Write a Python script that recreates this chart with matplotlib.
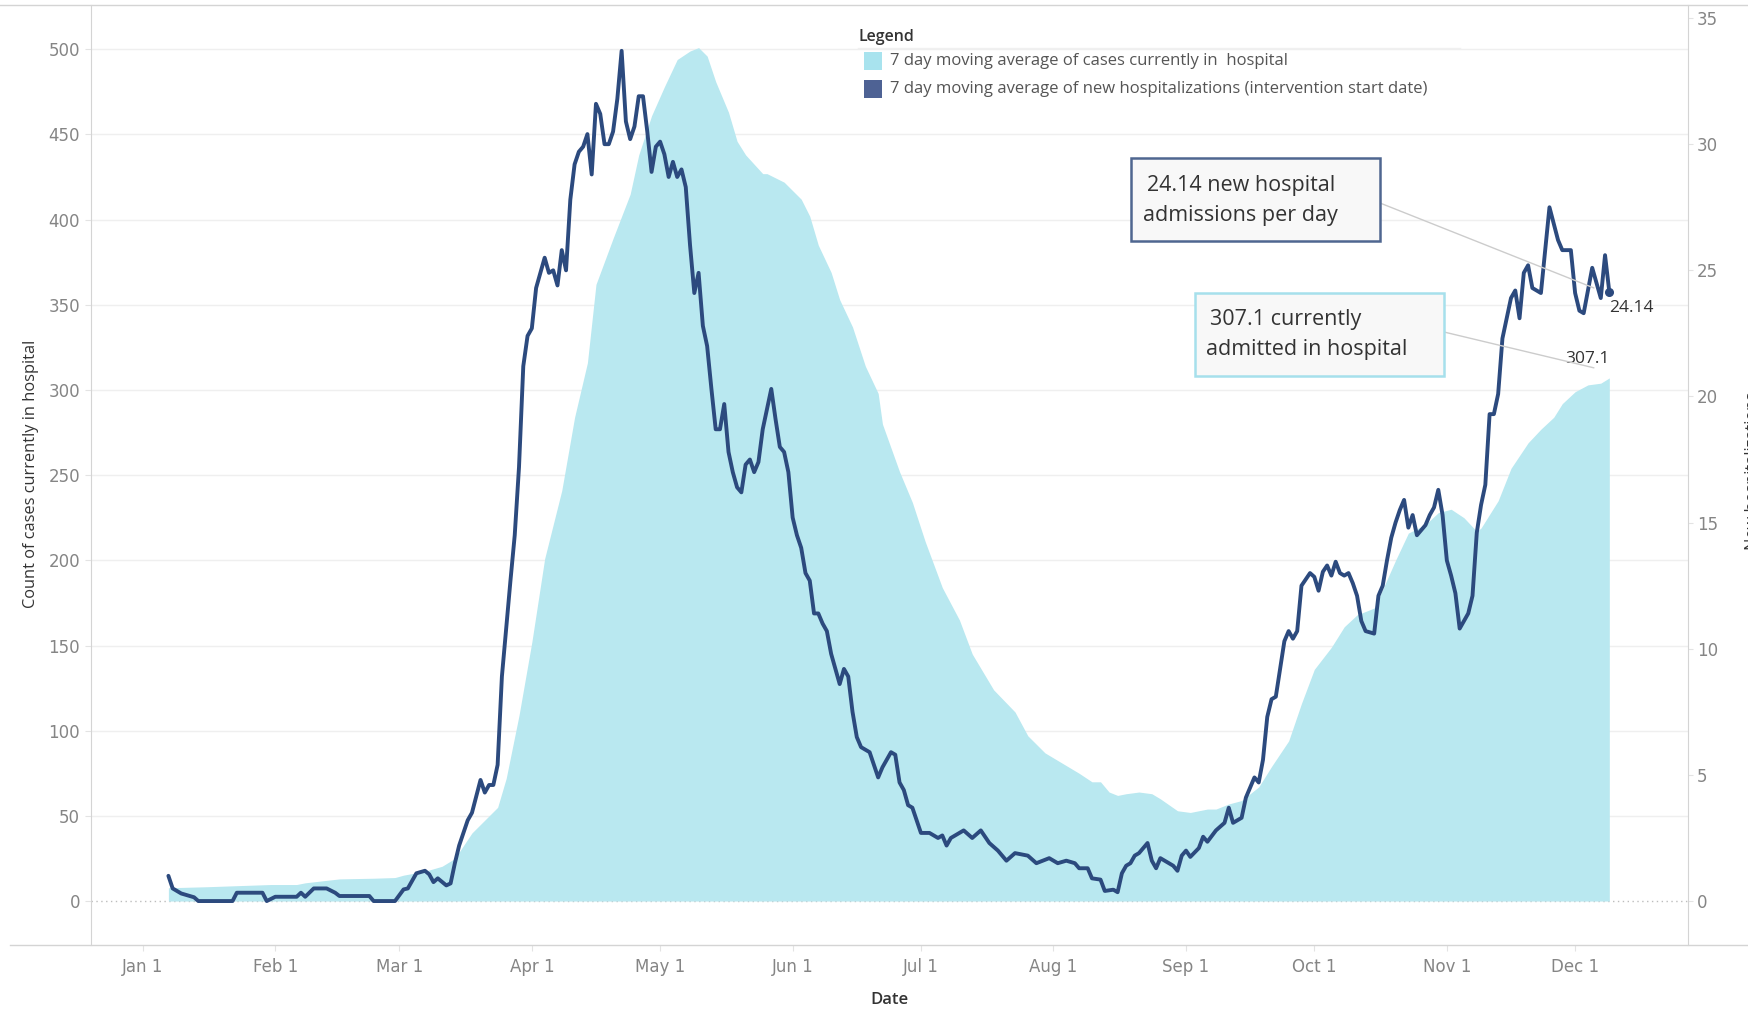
import numpy as np
import matplotlib
matplotlib.use("Agg")
import matplotlib.pyplot as plt
import matplotlib.dates as mdates
from matplotlib.lines import Line2D
from matplotlib.patches import Rectangle, ConnectionPatch

W, H = 1748, 1009

# days counted from 2020-01-01
area_day = [6, 15, 23, 30, 36, 38, 46, 54, 59, 61, 66, 70, 73, 77, 81, 83, 85, 88,
            91, 94, 98, 101, 104, 106, 110, 114, 116, 119, 122, 125, 128, 130, 132,
            134, 137, 139, 141, 145, 146, 150, 154, 156, 158, 161, 163, 166, 169,
            172, 173, 177, 180, 183, 187, 191, 194, 199, 204, 207, 211, 215, 219,
            222, 224, 226, 228, 230, 233, 236, 238, 242, 245, 249, 251, 254, 257,
            261, 264, 268, 271, 274, 278, 281, 284, 288, 290, 293, 296, 300, 303,
            306, 309, 312, 313, 317, 320, 324, 327, 330, 332, 335, 338, 341, 343]
area_val = [7.8, 8.4, 9.1, 9.7, 9.7, 10.7, 13, 13.4, 13.8, 15.2, 17.5, 20.4, 25, 40,
            50, 55, 72, 109, 152, 201, 241, 284, 316, 362, 389, 415, 438, 461, 478,
            494, 499, 501, 496, 481, 463, 446, 438, 427, 427, 422, 412, 402, 385,
            369, 353, 337, 314, 298, 280, 252, 234, 211, 184, 165, 145, 124, 111,
            97, 87, 81, 75, 70, 70, 64, 62, 63, 64, 63, 60, 53, 52, 54, 54, 57, 59,
            67, 79, 94, 116, 136, 149, 161, 168, 172, 183, 200, 216, 221, 228, 230,
            225, 217, 219, 235, 254, 269, 277, 284, 292, 299, 303, 304, 307.1]

line_day = [6, 7, 9, 12, 13, 21, 22, 28, 29, 31, 36, 37, 38, 40, 43, 45, 46, 53, 54,
            59, 61, 62, 64, 66, 67, 68, 69, 71, 72, 73, 74, 76, 77, 79, 80, 81, 82,
            83, 84, 86, 87, 88, 89, 90, 91, 92, 94, 95, 96, 97, 98, 99, 100, 101,
            102, 103, 104, 105, 106, 107, 108, 109, 110, 111, 112, 113, 114, 115,
            116, 117, 118, 119, 120, 121, 122, 123, 124, 125, 126, 127, 128, 129,
            130, 131, 132, 133, 134, 135, 136, 137, 138, 139, 140, 141, 142, 143,
            144, 145, 146, 147, 148, 149, 150, 151, 152, 153, 154, 155, 156, 157,
            158, 159, 160, 161, 162, 163, 164, 165, 166, 167, 168, 170, 172, 173,
            175, 176, 177, 178, 179, 180, 182, 184, 186, 187, 188, 189, 192, 194,
            196, 198, 200, 202, 204, 207, 209, 212, 214, 216, 218, 219, 221, 222,
            224, 225, 227, 228, 229, 230, 231, 232, 233, 235, 236, 237, 238, 240,
            241, 242, 243, 244, 245, 247, 248, 249, 251, 253, 254, 255, 256, 257,
            258, 260, 261, 262, 263, 264, 265, 266, 267, 268, 269, 270, 271, 273,
            274, 275, 276, 277, 278, 279, 280, 281, 282, 283, 284, 285, 286, 288,
            289, 290, 291, 292, 293, 294, 295, 296, 297, 298, 300, 301, 302, 303,
            304, 305, 306, 307, 308, 310, 311, 312, 313, 314, 315, 316, 317, 318,
            319, 320, 321, 322, 323, 324, 325, 327, 329, 331, 332, 334, 335, 336,
            337, 339, 341, 342, 343]
line_val = [1.0, 0.5, 0.3, 0.15, 0, 0, 0.33, 0.33, 0, 0.17, 0.17, 0.33, 0.17, 0.5,
            0.5, 0.33, 0.2, 0.2, 0, 0, 0.46, 0.5, 1.1, 1.2, 1.06, 0.75, 0.9, 0.62,
            0.7, 1.5, 2.2, 3.2, 3.5, 4.8, 4.3, 4.6, 4.6, 5.4, 8.9, 12.7, 14.5, 17.2,
            21.2, 22.4, 22.7, 24.3, 25.5, 24.9, 25.0, 24.4, 25.8, 25.0, 27.8, 29.2,
            29.7, 29.9, 30.4, 28.8, 31.6, 31.2, 30.0, 30.0, 30.5, 31.8, 33.7, 30.9,
            30.2, 30.7, 31.9, 31.9, 30.5, 28.9, 29.9, 30.1, 29.6, 28.7, 29.3, 28.7,
            29.0, 28.3, 26.0, 24.1, 24.9, 22.8, 22.0, 20.3, 18.7, 18.7, 19.7, 17.8,
            17.0, 16.4, 16.2, 17.3, 17.5, 17.0, 17.4, 18.7, 19.5, 20.3, 19.1, 18.0,
            17.8, 17.0, 15.2, 14.5, 14.0, 13.0, 12.7, 11.4, 11.4, 11.0, 10.7, 9.8,
            9.2, 8.6, 9.2, 8.9, 7.5, 6.5, 6.1, 5.9, 4.9, 5.3, 5.9, 5.8, 4.7, 4.4,
            3.8, 3.7, 2.7, 2.7, 2.5, 2.6, 2.2, 2.5, 2.8, 2.5, 2.8, 2.3, 2.0, 1.6,
            1.9, 1.8, 1.5, 1.7, 1.5, 1.6, 1.5, 1.3, 1.3, 0.9, 0.85, 0.4, 0.45, 0.35,
            1.1, 1.4, 1.5, 1.8, 1.9, 2.3, 1.6, 1.3, 1.7, 1.5, 1.4, 1.2, 1.8, 2.0,
            1.75, 2.1, 2.55, 2.35, 2.8, 3.1, 3.7, 3.1, 3.2, 3.3, 4.1, 4.9, 4.7, 5.6,
            7.3, 8.0, 8.1, 9.2, 10.3, 10.7, 10.4, 10.7, 12.5, 13.0, 12.85, 12.3,
            13.05, 13.3, 12.9, 13.45, 13.0, 12.9, 13.0, 12.6, 12.1, 11.1, 10.7,
            10.6, 12.1, 12.5, 13.5, 14.4, 15.0, 15.5, 15.9, 14.8, 15.3, 14.5, 14.9,
            15.3, 15.6, 16.3, 15.3, 13.5, 12.9, 12.2, 10.8, 11.4, 12.1, 14.6, 15.7,
            16.5, 19.3, 19.3, 20.1, 22.3, 23.1, 23.9, 24.2, 23.1, 24.9, 25.2, 24.3,
            24.1, 27.5, 26.2, 25.8, 25.8, 24.1, 23.4, 23.3, 25.1, 23.9, 25.6, 24.14]

month_ticks = ['2020-01-01', '2020-02-01', '2020-03-01', '2020-04-01', '2020-05-01',
               '2020-06-01', '2020-07-01', '2020-08-01', '2020-09-01', '2020-10-01',
               '2020-11-01', '2020-12-01']
month_labels = ['Jan 1', 'Feb 1', 'Mar 1', 'Apr 1', 'May 1', 'Jun 1', 'Jul 1',
                'Aug 1', 'Sep 1', 'Oct 1', 'Nov 1', 'Dec 1']
left_ticks = list(range(0, 501, 50))
right_ticks = list(range(0, 36, 5))

base = np.datetime64('2020-01-01')
area_dates = base + np.array(area_day, dtype='timedelta64[D]')
line_dates = base + np.array(line_day, dtype='timedelta64[D]')
tick_dates = np.array(month_ticks, dtype='datetime64[D]')

AREA = '#b9e8f0'
LINE = '#2c4a7e'
RATIO = 14.81   # left units per right unit


def fx(x):
    return x / W


def fy(y):
    return 1 - y / H


fig = plt.figure(figsize=(W / 100, H / 100), dpi=100)
ax = fig.add_axes([fx(91), fy(945), fx(1688) - fx(91), fy(5) - fy(945)])
ax2 = ax.twinx()

ax.fill_between(area_dates, area_val, 0, color=AREA, lw=0, zorder=2)
for v in left_ticks[1:]:
    ax.axhline(v, color='#efefef', lw=1, zorder=0)
ax.axhline(0, color='#bdbdbd', lw=1, ls=(0, (1, 2.5)), zorder=1)

ax2.plot(line_dates, line_val, color=LINE, lw=2.8, solid_joinstyle='round',
         solid_capstyle='round', zorder=3)
ax2.plot(line_dates[-1:], line_val[-1:], 'o', color=LINE, ms=5.5, zorder=4)

x0 = mdates.date2num(base)
ax.set_xlim(x0 - 12.1, x0 + 361.4)
ax.set_ylim(-25.8, 526)
ax2.set_ylim(-25.8 / RATIO, 526 / RATIO)

ax.set_xticks(tick_dates)
ax.set_xticklabels(month_labels)
ax.set_yticks(left_ticks)
ax2.set_yticks(right_ticks)

tick_col = '#858585'
ax.tick_params(axis='x', length=4, pad=5, color='#e3e3e3', labelcolor=tick_col,
               labelsize=12)
ax.tick_params(axis='y', length=4, pad=4, color='#e3e3e3', labelcolor=tick_col,
               labelsize=12)
ax2.tick_params(axis='y', length=3.5, pad=3, color='#e3e3e3', labelcolor=tick_col,
                labelsize=12)

for a in (ax, ax2):
    for s in a.spines.values():
        s.set_visible(False)
ax.spines['left'].set_visible(True)
ax.spines['left'].set_color('#d4d4d4')
ax2.spines['right'].set_visible(True)
ax2.spines['right'].set_color('#d4d4d4')

# outer frame lines
fig.add_artist(Line2D([0, 1], [fy(5), fy(5)], color='#d4d4d4', lw=1))
fig.add_artist(Line2D([fx(10), 1], [fy(945), fy(945)], color='#d4d4d4', lw=1))

font = ['Open Sans', 'DejaVu Sans']
fig.text(fx(31), fy(474), 'Count of cases currently in hospital', rotation=90,
         ha='center', va='center', fontsize=11.8, color='#333333', family=font)
fig.text(fx(1753), fy(471), 'New hospitalizations', rotation=90,
         ha='center', va='center', fontsize=11.8, color='#333333', family=font)
fig.text(fx(889), fy(1000), 'Date', ha='center', va='center', fontsize=12,
         color='#333333', family=font, weight='semibold')

# legend
fig.text(fx(859), fy(37), 'Legend', ha='left', va='center', fontsize=11.5,
         color='#333333', family=font, weight='semibold')
fig.add_artist(Line2D([fx(858), fx(1460)], [fy(48), fy(48)], color='#f0f0f0', lw=1))
legend_items = ['7 day moving average of cases currently in  hospital',
                '7 day moving average of new hospitalizations (intervention start date)']
legend_cols = ['#a8e3ee', '#4e6294']
for i, (lab, col) in enumerate(zip(legend_items, legend_cols)):
    yc = 61 + 28 * i
    fig.add_artist(Rectangle((fx(864), fy(yc + 9)), fx(18), 18 / H, color=col, lw=0))
    fig.text(fx(890), fy(yc), lab, ha='left', va='center', fontsize=12,
             color='#555555', family=font)

# annotation boxes
boxes = [
    dict(rect=(1131, 158, 1380, 241), edge='#4f6690',
         lines=['24.14 new hospital', 'admissions per day'], tx=(1147, 1143),
         ty=(185, 215), start=(1380, 203), target=(ax2, 339.4, 24.3)),
    dict(rect=(1195, 293, 1444, 376), edge='#a6e0ec',
         lines=['307.1 currently', 'admitted in hospital'], tx=(1210, 1206),
         ty=(320, 350), start=(1444, 332), target=(ax, 339.4, 313)),
]
for b in boxes:
    x1, y1, x2, y2 = b['rect']
    fig.add_artist(Rectangle((fx(x1), fy(y2)), fx(x2 - x1), (y2 - y1) / H,
                             facecolor='#f8f8f8', edgecolor=b['edge'], lw=1.8,
                             zorder=5))
    for t, xx, yy in zip(b['lines'], b['tx'], b['ty']):
        fig.text(fx(xx), fy(yy), t, ha='left', va='center', fontsize=15.5,
                 color='#333333', family=font, zorder=6)
    tax, tdx, tv = b['target']
    con = ConnectionPatch(xyA=(fx(b['start'][0]), fy(b['start'][1])),
                          coordsA=fig.transFigure,
                          xyB=(x0 + tdx, tv), coordsB=tax.transData,
                          color='#cccccc', lw=1)
    fig.add_artist(con)

# end labels
ax2.annotate(f'{line_val[-1]:.2f}', xy=(line_dates[-1], line_val[-1]),
             xytext=(0, -6), textcoords='offset points', ha='left', va='top',
             fontsize=12.5, color='#333333', family=font)
ax.annotate(f'{area_val[-1]:.1f}', xy=(area_dates[-1], area_val[-1]),
            xytext=(0, 8), textcoords='offset points', ha='right', va='bottom',
            fontsize=12.5, color='#333333', family=font)

fig.savefig('out.png', dpi=100)
